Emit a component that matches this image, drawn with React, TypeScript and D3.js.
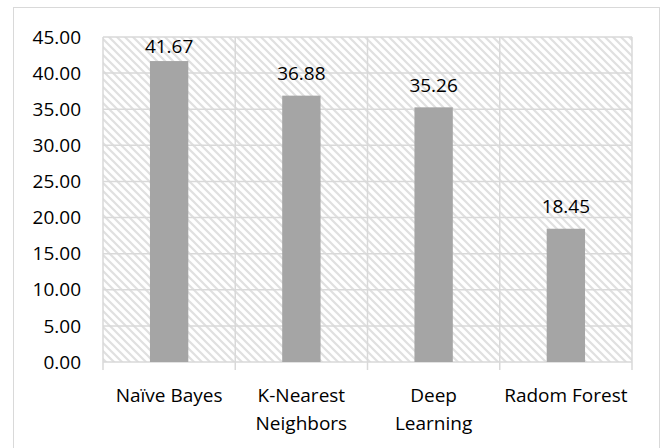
import React from "react";
import * as d3 from "d3";

const categories: string[][] = [["Naïve Bayes"], ["K-Nearest", "Neighbors"], ["Deep", "Learning"], ["Radom Forest"]];
const values: number[] = [41.67, 36.88, 35.26, 18.45];
const yTicks: number[] = [0, 5, 10, 15, 20, 25, 30, 35, 40, 45];

const W = 662;
const H = 448;
const plot = { left: 103, right: 632, top: 37, bottom: 362 };
const FONT = "'Open Sans', 'Noto Sans', sans-serif";

export default function App() {
  const x = d3
    .scaleBand<number>()
    .domain(values.map((_, i) => i))
    .range([plot.left, plot.right])
    .paddingInner(0)
    .paddingOuter(0);
  const y = d3.scaleLinear().domain([0, 45]).range([plot.bottom, plot.top]);
  const bw = x.bandwidth() * 0.29;
  const grid = "#d9d9d9";

  return (
    <svg width={W} height={H} style={{ position: "absolute", left: 0, top: 0 }} fontFamily={FONT}>
      <defs>
        <pattern id="hatch" width={8} height={8} patternUnits="userSpaceOnUse">
          <rect width={8} height={8} fill="#fff" />
          <path d="M-2,-2 L10,10 M-2,6 L2,10 M6,-2 L10,2" stroke="#e0e0e0" strokeWidth={2.2} />
        </pattern>
      </defs>
      <rect x={0} y={0} width={W} height={H} fill="#fff" />
      <rect x={13.5} y={7.5} width={646} height={460} fill="#fff" stroke="#d9d9d9" strokeWidth={1} />
      <rect x={plot.left} y={plot.top} width={plot.right - plot.left} height={plot.bottom - plot.top} fill="url(#hatch)" />
      {yTicks.map((t) => (
        <line key={"g" + t} x1={plot.left} x2={plot.right} y1={y(t)} y2={y(t)} stroke={grid} strokeWidth={1.5} />
      ))}
      {values.map((_, i) => (
        <line key={"v" + i} x1={x(i)!} x2={x(i)!} y1={plot.top} y2={plot.bottom + 8} stroke={grid} strokeWidth={1.5} />
      ))}
      <line x1={plot.right} x2={plot.right} y1={plot.top} y2={plot.bottom + 8} stroke={grid} strokeWidth={1.5} />
      {values.map((v, i) => {
        const cx = x(i)! + x.bandwidth() / 2;
        return (
          <g key={"b" + i}>
            <rect x={cx - bw / 2} y={y(v)} width={bw} height={y(0) - y(v)} fill="#a5a5a5" />
            <text x={cx} y={Math.max(y(v) - 22, plot.top + 9)} dy="0.35em" textAnchor="middle" fontSize={19} fill="#000">
              {v.toFixed(2)}
            </text>
          </g>
        );
      })}
      {yTicks.map((t) => (
        <text key={"yt" + t} x={81} y={y(t)} dy="0.35em" textAnchor="end" fontSize={19} fill="#000">
          {t.toFixed(2)}
        </text>
      ))}
      {categories.map((lines, i) => {
        const cx = x(i)! + x.bandwidth() / 2;
        return (
          <text key={"c" + i} x={cx} textAnchor="middle" fontSize={19} fill="#000">
            {lines.map((l, j) => (
              <tspan key={j} x={cx} y={395 + j * 28} dy="0.35em">
                {l}
              </tspan>
            ))}
          </text>
        );
      })}
    </svg>
  );
}
